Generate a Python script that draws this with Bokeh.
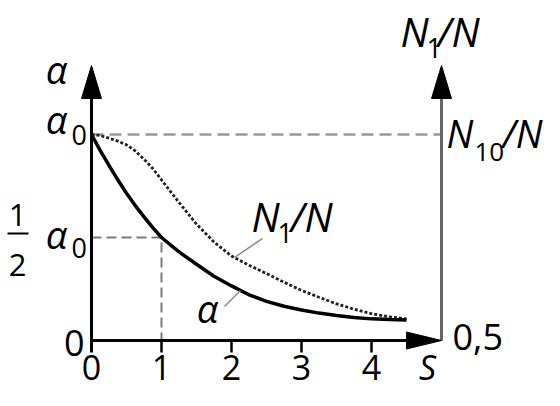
from bokeh.plotting import figure
from bokeh.models import Range1d
from bokeh.core.properties import value
from bokeh.embed import file_html
from bokeh.resources import INLINE

# ---- data ----
S_vals = [0, 0.125, 0.25, 0.375, 0.5, 0.625, 0.75, 0.875, 1.0, 1.25, 1.5, 1.75, 2.0,
          2.25, 2.5, 2.75, 3.0, 3.25, 3.5, 3.75, 4.0, 4.25, 4.5]
alpha_vals = [1.0, 0.922, 0.85, 0.78, 0.715, 0.655, 0.60, 0.548, 0.50, 0.43, 0.37, 0.312, 0.265,
              0.222, 0.19, 0.166, 0.148, 0.133, 0.121, 0.112, 0.105, 0.102, 0.10]
n1n_vals = [1.0, 0.995, 0.982, 0.968, 0.95, 0.92, 0.88, 0.835, 0.78, 0.67, 0.565, 0.478, 0.41,
            0.365, 0.325, 0.283, 0.243, 0.21, 0.178, 0.152, 0.13, 0.115, 0.105]
x_ticks = [0, 1, 2, 3, 4]
x_tick_labels = ["0", "1", "2", "3", "4"]
alpha0_level = 1.0
half_level = 0.5
half_S = 1.0
S_max = 5.0
right_bottom_label = "0,5"

FONT = "Open Sans"
W, H = 544, 390
PX_S, PX_V = 70.0, 206.0      # pixels per unit
ORIG_X, ORIG_Y = 91.0, 340.0  # pixel of the origin


def X(px):
    return (px - ORIG_X) / PX_S


def Y(py):
    return (ORIG_Y - py) / PX_V


p = figure(width=W, height=H, x_range=Range1d(X(0), X(W)), y_range=Range1d(Y(H), Y(0)),
           min_border=0, toolbar_location=None, output_backend="svg")
p.axis.visible = False
p.grid.visible = False
p.outline_line_color = None
p.background_fill_color = "white"
p.border_fill_color = "white"

top = Y(65)
# dashed guides
p.line([0, S_max], [alpha0_level, alpha0_level], line_color="#9a9a9a", line_width=2.5, line_dash="12 6")
p.line([0, half_S, half_S], [half_level, half_level, 0], line_color="#7a7a7a", line_width=2, line_dash="10 5")

# curves
p.line(S_vals, n1n_vals, line_color="#222222", line_width=2.8, line_dash="3 2")
p.line(S_vals, alpha_vals, line_color="black", line_width=3.5)

# axes
p.line([0, 0], [Y(352), top - 30 / PX_V], line_color="black", line_width=3)
p.line([S_max, S_max], [0, top - 30 / PX_V], line_color="#666666", line_width=3)
p.line([0, S_max - 30 / PX_S], [0, 0], line_color="black", line_width=3)
for t in x_ticks[1:]:
    p.line([t, t], [0, Y(352)], line_color="black", line_width=2.5)


def vhead(x, tip):
    L, hw = 33 / PX_V, 10 / PX_S
    p.patch([x - hw, x, x + hw], [tip - L, tip, tip - L], fill_color="black", line_color="black")


def hhead(tipx, y):
    L, hw = 35 / PX_S, 8.5 / PX_V
    p.patch([tipx - L, tipx, tipx - L], [y - hw, y, y + hw], fill_color="black", line_color="black")


vhead(0, top)
vhead(S_max, top)
hhead(S_max, 0)

# leader lines
p.line([X(234), X(262)], [Y(257), Y(238)], line_color="#888888", line_width=1.5)
p.line([X(240), X(224)], [Y(290), Y(306)], line_color="#888888", line_width=1.5)


def txt(px, baseline_py, s, size, italic=False, align="left"):
    # anchor at the em-box middle, computed from the wanted baseline
    p.text(x=[X(px)], y=[Y(baseline_py - 0.388 * size)], text=[s], text_font=value(FONT),
           text_font_size=f"{size}px", text_font_style="italic" if italic else "normal",
           text_align=align, text_baseline="middle", text_color="black")


# x tick labels
for t, lab in zip(x_ticks, x_tick_labels):
    txt(ORIG_X + t * PX_S, 380, lab, 34, align="center")
txt(427, 380, "S", 34, italic=True, align="center")

# left labels
txt(84, 356, "0", 36, align="right")
txt(56, 83, "α", 38, italic=True, align="center")
txt(56, 133, "α", 38, italic=True, align="center")
txt(71, 145, "0", 27)
txt(17, 227, "1", 31, align="center")
txt(17, 277, "2", 31, align="center")
p.line([X(7), X(28)], [Y(233), Y(233)], line_color="black", line_width=2)
txt(56, 248, "α", 38, italic=True, align="center")
txt(71, 258, "0", 27)

# right axis labels
txt(400, 47, "N", 40, italic=True)
txt(426, 58, "1", 27)
txt(437, 47, "/N", 40, italic=True)
txt(446, 147, "N", 38, italic=True)
txt(474, 162, "10", 26)
txt(502, 147, "/N", 38, italic=True)
txt(452, 350, right_bottom_label, 36)

# curve labels
txt(251, 232, "N", 40, italic=True)
txt(277, 243, "1", 27)
txt(290, 232, "/N", 40, italic=True)
txt(207, 322, "α", 38, italic=True, align="center")

open("out.html", "w").write(file_html(p, INLINE))
